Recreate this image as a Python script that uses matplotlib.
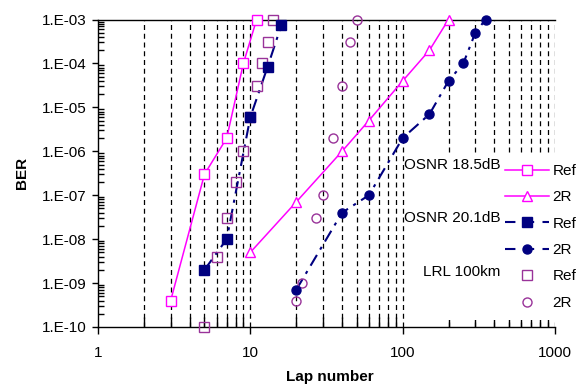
import numpy as np
import matplotlib
matplotlib.use("Agg")
import matplotlib.pyplot as plt
from matplotlib.lines import Line2D
from matplotlib.patches import Rectangle
from matplotlib.ticker import FixedLocator, FuncFormatter, NullFormatter

# OSNR 18.5dB
ref_185_x = [3, 5, 7, 9, 11]
ref_185_y = [4e-10, 3e-7, 2e-6, 1e-4, 1e-3]
r2_185_x = [10, 20, 40, 60, 100, 150, 200]
r2_185_y = [5e-9, 7e-8, 1e-6, 5e-6, 4e-5, 2e-4, 1e-3]

# OSNR 20.1dB
ref_201_x = [5, 7, 10, 13, 16, 20]
ref_201_y = [2e-9, 1e-8, 6e-6, 8.5e-5, 7.5e-4, 7e-3]
r2_201_x = [20, 40, 60, 100, 150, 200, 250, 300, 350]
r2_201_y = [7e-10, 4e-8, 1e-7, 2e-6, 7e-6, 4e-5, 1e-4, 5e-4, 1e-3]

# LRL 100km
ref_lrl_x = [5, 6, 7, 8, 9, 10, 11, 12, 13, 14]
ref_lrl_y = [1e-10, 4e-9, 3e-8, 2e-7, 1e-6, 6e-6, 3e-5, 1e-4, 3e-4, 1e-3]
r2_lrl_x = [20, 22, 27, 30, 35, 40, 45, 50]
r2_lrl_y = [4e-10, 1e-9, 3e-8, 1e-7, 2e-6, 3e-5, 3e-4, 1e-3]

group_labels = ["OSNR 18.5dB", "OSNR 20.1dB", "LRL 100km"]
series_labels = ["Ref", "2R", "Ref", "2R", "Ref", "2R"]

MAGENTA = "#ff00ff"
NAVY = "#000080"
PURPLE = "#993399"

plt.rcParams["font.family"] = ["Liberation Sans", "DejaVu Sans"]

W, H = 585, 385
fig = plt.figure(figsize=(W / 100, H / 100), dpi=100)
ax_l, ax_r, ax_t, ax_b = 98, 555, 19.5, 327
ax = fig.add_axes([ax_l / W, 1 - ax_b / H, (ax_r - ax_l) / W, (ax_b - ax_t) / H])

ax.set_xscale("log")
ax.set_yscale("log")
ax.set_xlim(1, 1000)
ax.set_ylim(1e-10, 1e-3)

dashdot = (0, (6, 3, 1.5, 3))

# lines (clipped) and markers (not clipped)
ax.plot(ref_185_x, ref_185_y, color=MAGENTA, lw=1.1, zorder=3)
ax.plot(r2_185_x, r2_185_y, color=MAGENTA, lw=1.1, zorder=3)
ax.plot(ref_201_x, ref_201_y, color=NAVY, lw=1.5, linestyle=dashdot, zorder=3)
ax.plot(r2_201_x, r2_201_y, color=NAVY, lw=1.5, linestyle=dashdot, zorder=3)

mk = dict(linestyle="none", clip_on=False, zorder=4)
ax.plot(ref_lrl_x, ref_lrl_y, marker="s", ms=6.5, mfc="none", mec=PURPLE, mew=1.0, **mk)
ax.plot(r2_lrl_x, r2_lrl_y, marker="o", ms=6.5, mfc="none", mec=PURPLE, mew=1.0, **mk)
ax.plot(ref_185_x, ref_185_y, marker="s", ms=6.5, mfc="white", mec=MAGENTA, mew=1.0, **mk)
ax.plot(r2_185_x, r2_185_y, marker="^", ms=7.5, mfc="white", mec=MAGENTA, mew=1.0, **mk)
ax.plot(ref_201_x[:-1], ref_201_y[:-1], marker="s", ms=6.5, color=NAVY, **mk)
ax.plot(r2_201_x, r2_201_y, marker="o", ms=6.5, color=NAVY, **mk)

# axes styling
ax.spines["right"].set_visible(False)
for side in ["left", "bottom", "top"]:
    ax.spines[side].set_linewidth(1.0)

ax.xaxis.set_major_locator(FixedLocator([1, 10, 100, 1000]))
ax.xaxis.set_major_formatter(FuncFormatter(lambda v, p: f"{int(round(v))}"))
minor_x = [m * 10 ** d for d in range(3) for m in range(2, 10)]
ax.xaxis.set_minor_locator(FixedLocator(minor_x))
ax.xaxis.set_minor_formatter(NullFormatter())

ax.yaxis.set_major_locator(FixedLocator([10.0 ** e for e in range(-10, -2)]))
ax.yaxis.set_major_formatter(FuncFormatter(lambda v, p: f"1.E-{int(round(-np.log10(v))):02d}"))
minor_y = [m * 10.0 ** e for e in range(-10, -3) for m in range(2, 10)]
ax.yaxis.set_minor_locator(FixedLocator(minor_y))
ax.yaxis.set_minor_formatter(NullFormatter())

ax.tick_params(axis="x", which="major", direction="out", length=5, width=1, pad=9, labelsize=11)
ax.tick_params(axis="x", which="minor", direction="in", length=7, width=1)
ax.tick_params(axis="y", which="major", direction="out", length=4, width=1, pad=4, labelsize=11)
ax.tick_params(axis="y", which="minor", direction="in", length=4, width=1)
ax.tick_params(top=False, right=False, which="both")

# vertical dashed gridlines at every major and minor position
for xv in minor_x + [10, 100, 1000]:
    ax.axvline(xv, color="black", lw=0.9, linestyle=(0, (4, 3)), zorder=1)

# white legend area covering the gridlines
ax.add_patch(Rectangle((0.694, 0.023), 0.36, 0.535, transform=ax.transAxes,
                       facecolor="white", edgecolor="none", zorder=2.6, clip_on=False))

handles = [
    Line2D([], [], color=MAGENTA, lw=1.1, marker="s", ms=6.5, mfc="white", mec=MAGENTA),
    Line2D([], [], color=MAGENTA, lw=1.1, marker="^", ms=7.5, mfc="white", mec=MAGENTA),
    Line2D([], [], color=NAVY, lw=1.5, linestyle=(0, (5, 4)), marker="s", ms=6.5),
    Line2D([], [], color=NAVY, lw=1.5, linestyle=(0, (5, 4)), marker="o", ms=6.5),
    Line2D([], [], linestyle="none", marker="s", ms=6.5, mfc="none", mec=PURPLE),
    Line2D([], [], linestyle="none", marker="o", ms=6.5, mfc="none", mec=PURPLE),
]
leg = fig.legend(handles, series_labels, loc="upper left",
                 bbox_to_anchor=(505 / W, 1 - 164 / H), frameon=False,
                 fontsize=11, handlelength=2.9, handletextpad=0.2,
                 labelspacing=0.81, borderpad=0, borderaxespad=0)
leg.set_zorder(5)

for label, yp in zip(group_labels, [165, 218, 272]):
    fig.text(500 / W, 1 - yp / H, label, ha="right", va="center", fontsize=11)

fig.text(22 / W, 1 - 173 / H, "BER", rotation=90, ha="center", va="center",
         fontsize=11, fontweight="bold")
fig.text(330 / W, 1 - 377 / H, "Lap number", ha="center", va="center",
         fontsize=11, fontweight="bold")

fig.savefig("out.png", dpi=100, facecolor="white")
